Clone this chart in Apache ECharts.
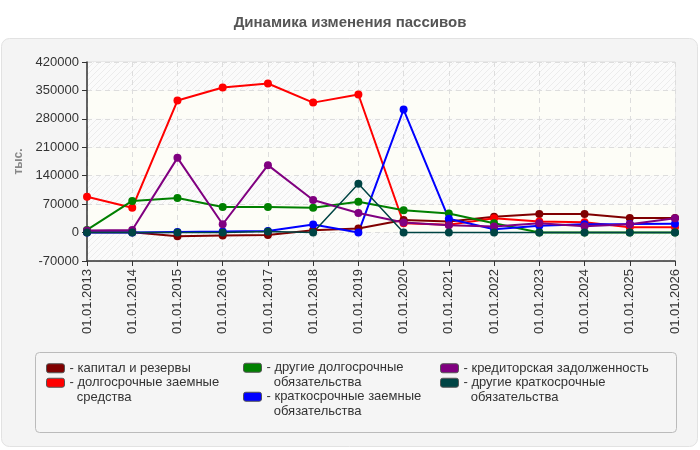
<!DOCTYPE html>
<html lang="ru">
<head>
	<meta charset="UTF-8">
	<title>Динамика изменения пассивов</title>
	<script src="https://cdn.jsdelivr.net/npm/echarts@6/dist/echarts.min.js"></script>
	<style>
		html, body { margin: 0; padding: 0; background: #fff; }
		#chart { width: 700px; height: 450px; }
	</style>
</head>
<body>
	<div id="chart"></div>
	<script>
		// данные
		var years = ['01.01.2013','01.01.2014','01.01.2015','01.01.2016','01.01.2017','01.01.2018','01.01.2019',
			'01.01.2020','01.01.2021','01.01.2022','01.01.2023','01.01.2024','01.01.2025','01.01.2026'];
		var kapital   = [1000, 1000, -9000, -7500, -6000, 6000, 10000, 31000, 27000, 39000, 46000, 46000, 36000, 36000];
		var dolgZaem  = [88000, 61000, 325000, 357000, 367000, 320000, 340000, 23000, 19000, 35000, 27000, 25500, 13000, 13000];
		var drugDolg  = [6500, 78000, 85000, 63000, 63000, 61000, 76000, 55000, 47000, 23000, 0, 0, 0, 0];
		var kratZaem  = [0, 0, 1500, 2500, 4000, 20000, 0, 303000, 34000, 8000, 16500, 20500, 21000, 22000];
		var kreditor  = [5000, 6500, 184000, 20500, 166000, 80000, 48000, 25000, 18000, 15000, 23000, 15500, 20500, 35000];
		var drugKrat  = [0, 0, 0, 0, 2500, 0, 120000, 0, 0, 0, 0, 0, 0, 0];

		var names = ['капитал и резервы', 'долгосрочные заемные средства', 'другие долгосрочные обязательства',
			'краткосрочные заемные обязательства', 'кредиторская задолженность', 'другие краткосрочные обязательства'];
		// как подписи разбиты на строки в легенде
		var legendText = {
			'капитал и резервы': '- капитал и резервы',
			'долгосрочные заемные средства': '\n- долгосрочные заемные\n  средства',
			'другие долгосрочные обязательства': '\n- другие долгосрочные\n  обязательства',
			'краткосрочные заемные обязательства': '\n- краткосрочные заемные\n  обязательства',
			'кредиторская задолженность': '- кредиторская задолженность',
			'другие краткосрочные обязательства': '\n- другие краткосрочные\n  обязательства'
		};
		var colors = ['#800000', '#ff0000', '#008000', '#0000ff', '#800080', '#004444'];
		var values = [kapital, dolgZaem, drugDolg, kratZaem, kreditor, drugKrat];

		// штриховка фона
		function hatch() {
			var c = document.createElement('canvas');
			c.width = 6; c.height = 6;
			var g = c.getContext('2d');
			g.fillStyle = '#fbfbfb';
			g.fillRect(0, 0, 6, 6);
			g.strokeStyle = '#ececec';
			g.lineWidth = 1;
			g.beginPath();
			g.moveTo(0, 6); g.lineTo(6, 0);
			g.moveTo(-1, 1); g.lineTo(1, -1);
			g.moveTo(5, 7); g.lineTo(7, 5);
			g.stroke();
			return c;
		}

		var series = [];
		for (var i = 0; i < names.length; i++) {
			series.push({
				name: names[i],
				type: 'line',
				data: values[i],
				symbol: 'circle',
				symbolSize: 8,
				itemStyle: { color: colors[i] },
				lineStyle: { width: i == 5 ? 1.5 : 2, color: colors[i] },
				emphasis: { disabled: true }
			});
		}

		// легенда: отдельный блок на каждый пункт, чтобы встать в три колонки
		// [left, top]; для двухстрочных подписей top сдвинут из-за пустой первой строки
		var legendPos = [[46, 361], [46, 361], [243, 346], [243, 375], [440, 361], [440, 361]];
		var legends = [];
		for (var j = 0; j < names.length; j++) {
			legends.push({
				data: [names[j]],
				left: legendPos[j][0],
				top: legendPos[j][1],
				padding: 0,
				icon: 'roundRect',
				itemWidth: 18,
				itemHeight: 9,
				itemGap: 2,
				selectedMode: false,
				itemStyle: { borderColor: '#555', borderWidth: 1 },
				textStyle: { fontSize: 13, color: '#333', fontFamily: 'Liberation Sans', lineHeight: 14.5 },
				formatter: function (n) { return legendText[n]; }
			});
		}

		var chart = echarts.init(document.getElementById('chart'));
		chart.setOption({
			animation: false,
			backgroundColor: '#fff',
			color: colors,
			title: {
				text: 'Динамика изменения пассивов',
				left: 'center',
				top: 10,
				textStyle: { fontSize: 15, fontWeight: 'bold', color: '#555', fontFamily: 'Liberation Sans' }
			},
			graphic: [
				{
					type: 'rect', z: -10, silent: true,
					shape: { x: 1.5, y: 38.5, width: 696, height: 408, r: 8 },
					style: { fill: '#f4f4f4', stroke: '#e2e2e2', lineWidth: 1 }
				},
				{
					type: 'rect', z: -9, silent: true,
					shape: { x: 35.5, y: 352.5, width: 641, height: 80, r: 4 },
					style: { fill: '#f5f5f5', stroke: '#bbb', lineWidth: 1 }
				}
			],
			legend: legends,
			grid: {
				left: 87, right: 25, top: 62, bottom: 189,
				show: true, borderColor: '#ddd', borderWidth: 1, backgroundColor: 'transparent'
			},
			xAxis: {
				type: 'category',
				data: years,
				boundaryGap: false,
				axisLine: { onZero: false, lineStyle: { color: '#333', width: 1.5 } },
				axisTick: { show: true, length: 5, lineStyle: { color: '#333' } },
				axisLabel: { rotate: 90, fontSize: 13, color: '#333', fontFamily: 'Liberation Sans', margin: 8 },
				splitLine: { show: true, lineStyle: { color: '#ddd', type: [5, 4] } }
			},
			yAxis: {
				type: 'value',
				min: -70000,
				max: 420000,
				interval: 70000,
				name: 'тыс.',
				nameLocation: 'middle',
				nameRotate: 90,
				nameGap: 60,
				nameTextStyle: { fontSize: 12, fontWeight: 'bold', color: '#888', fontFamily: 'Liberation Sans' },
				axisLine: { show: true, lineStyle: { color: '#333', width: 1.5 } },
				axisTick: { show: true, length: 5, lineStyle: { color: '#333' } },
				axisLabel: {
					fontSize: 13, color: '#333', fontFamily: 'Liberation Sans', margin: 8,
					formatter: function (v) { return String(v); }
				},
				splitLine: { show: true, lineStyle: { color: '#ddd', type: [5, 4] } },
				splitArea: { show: true, areaStyle: { color: [{ image: hatch(), repeat: 'repeat' }, '#fdfdf7'] } }
			},
			series: series
		});
	</script>
</body>
</html>
